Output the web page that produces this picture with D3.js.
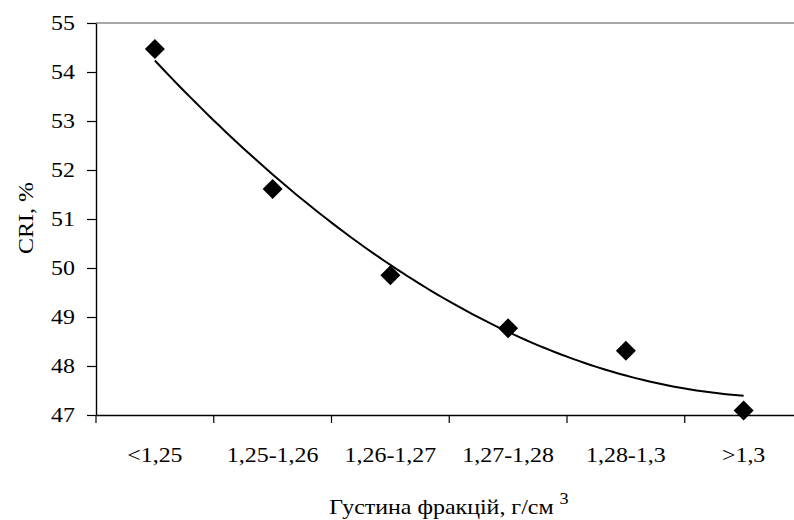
<!DOCTYPE html>
<html>
<head>
<meta charset="utf-8">
<script src="https://cdn.jsdelivr.net/npm/d3@7"></script>
<style>
  body { margin: 0; background: #fff; }
  text { font-family: "Liberation Serif", "Times New Roman", serif; fill: #000; }
</style>
</head>
<body>
<svg id="chart" width="794" height="520"></svg>
<script>
const categories = ["<1,25", "1,25-1,26", "1,26-1,27", "1,27-1,28", "1,28-1,3", ">1,3"];
const cri = [54.47, 51.61, 49.85, 48.77, 48.31, 47.09];
const yTicks = [47, 48, 49, 50, 51, 52, 53, 54, 55];

const svg = d3.select("#chart");
const plotLeft = 96, plotTop = 23, plotBottom = 415, plotRight = 802.5;
const stretch = 1.14; // text in the source is widened horizontally
const fontSize = 21;

const x = d3.scaleBand().domain(categories).range([plotLeft, plotRight]).padding(0);
const y = d3.scaleLinear().domain([47, 55]).range([plotBottom, plotTop]);

// quadratic trend (least squares) through the points, like a spreadsheet trendline
function polyFit(xs, ys) {
  const s = [0, 0, 0, 0, 0], t = [0, 0, 0];
  xs.forEach((xv, i) => {
    for (let k = 0; k < 5; k++) s[k] += Math.pow(xv, k);
    for (let k = 0; k < 3; k++) t[k] += ys[i] * Math.pow(xv, k);
  });
  const m = [[s[0], s[1], s[2], t[0]], [s[1], s[2], s[3], t[1]], [s[2], s[3], s[4], t[2]]];
  for (let i = 0; i < 3; i++) {
    for (let j = i + 1; j < 3; j++) {
      const f = m[j][i] / m[i][i];
      for (let k = i; k < 4; k++) m[j][k] -= f * m[i][k];
    }
  }
  const c = [0, 0, 0];
  for (let i = 2; i >= 0; i--) {
    let v = m[i][3];
    for (let k = i + 1; k < 3; k++) v -= m[i][k] * c[k];
    c[i] = v / m[i][i];
  }
  return (xv) => c[0] + c[1] * xv + c[2] * xv * xv;
}

const idx = categories.map((d, i) => i + 1);
const trend = polyFit(idx, cri);
const xIdx = d3.scaleLinear().domain([1, categories.length])
  .range([x(categories[0]) + x.bandwidth() / 2, x(categories[categories.length - 1]) + x.bandwidth() / 2]);

// top frame line
svg.append("line")
  .attr("x1", plotLeft).attr("x2", plotRight).attr("y1", plotTop).attr("y2", plotTop)
  .attr("stroke", "#8c8c8c").attr("stroke-width", 1.5);

// y axis
const yAxis = svg.append("g")
  .attr("transform", `translate(${plotLeft},0)`)
  .call(d3.axisLeft(y).tickValues(yTicks).tickSize(9).tickSizeOuter(0));
yAxis.select(".domain").attr("stroke", "#000").attr("stroke-width", 1.4);
yAxis.selectAll(".tick line").attr("stroke", "#000").attr("stroke-width", 1.2);
yAxis.selectAll(".tick text")
  .attr("font-size", fontSize)
  .attr("x", -21 / stretch)
  .attr("dy", "0.33em")
  .attr("transform", `scale(${stretch},1)`);

// x axis: labels at band centres, ticks at band edges
const xAxis = svg.append("g")
  .attr("transform", `translate(0,${plotBottom})`)
  .call(d3.axisBottom(x).tickSize(0).tickSizeOuter(0));
xAxis.select(".domain").attr("stroke", "#000").attr("stroke-width", 1.4);
xAxis.selectAll(".tick text")
  .attr("font-size", fontSize)
  .attr("y", 47.5)
  .attr("dy", 0)
  .each(function () {
    const p = d3.select(this.parentNode);
    const tr = p.attr("transform");
    const cx = +tr.match(/translate\(([^,]+),/)[1];
    p.attr("transform", `translate(${cx},0) scale(${stretch},1)`);
  });

svg.append("g")
  .selectAll("line")
  .data(categories)
  .join("line")
  .attr("x1", (d) => x(d)).attr("x2", (d) => x(d))
  .attr("y1", plotBottom).attr("y2", plotBottom + 8)
  .attr("stroke", "#000").attr("stroke-width", 1.2);

// trend curve
const curvePts = d3.range(1, categories.length + 0.001, 0.05);
svg.append("path")
  .datum(curvePts)
  .attr("fill", "none")
  .attr("stroke", "#000")
  .attr("stroke-width", 2)
  .attr("d", d3.line().x((d) => xIdx(d)).y((d) => y(trend(d))));

// diamond markers
const r = 10;
svg.append("g")
  .selectAll("path")
  .data(categories)
  .join("path")
  .attr("transform", (d, i) => `translate(${x(d) + x.bandwidth() / 2},${y(cri[i])})`)
  .attr("d", `M0,${-r} L${r},0 L0,${r} L${-r},0 Z`)
  .attr("fill", "#000");

// axis titles
svg.append("text")
  .attr("transform", `translate(33,218) rotate(-90) scale(${stretch},1)`)
  .attr("text-anchor", "middle")
  .attr("font-size", fontSize)
  .text("CRI, %");

const xt = svg.append("text")
  .attr("transform", `translate(449,514) scale(${stretch},1)`)
  .attr("text-anchor", "middle")
  .attr("font-size", fontSize);
xt.append("tspan").text("Густина фракцій, г/см ");
xt.append("tspan").attr("font-size", 16).attr("dy", -10).text("3");
</script>
</body>
</html>
